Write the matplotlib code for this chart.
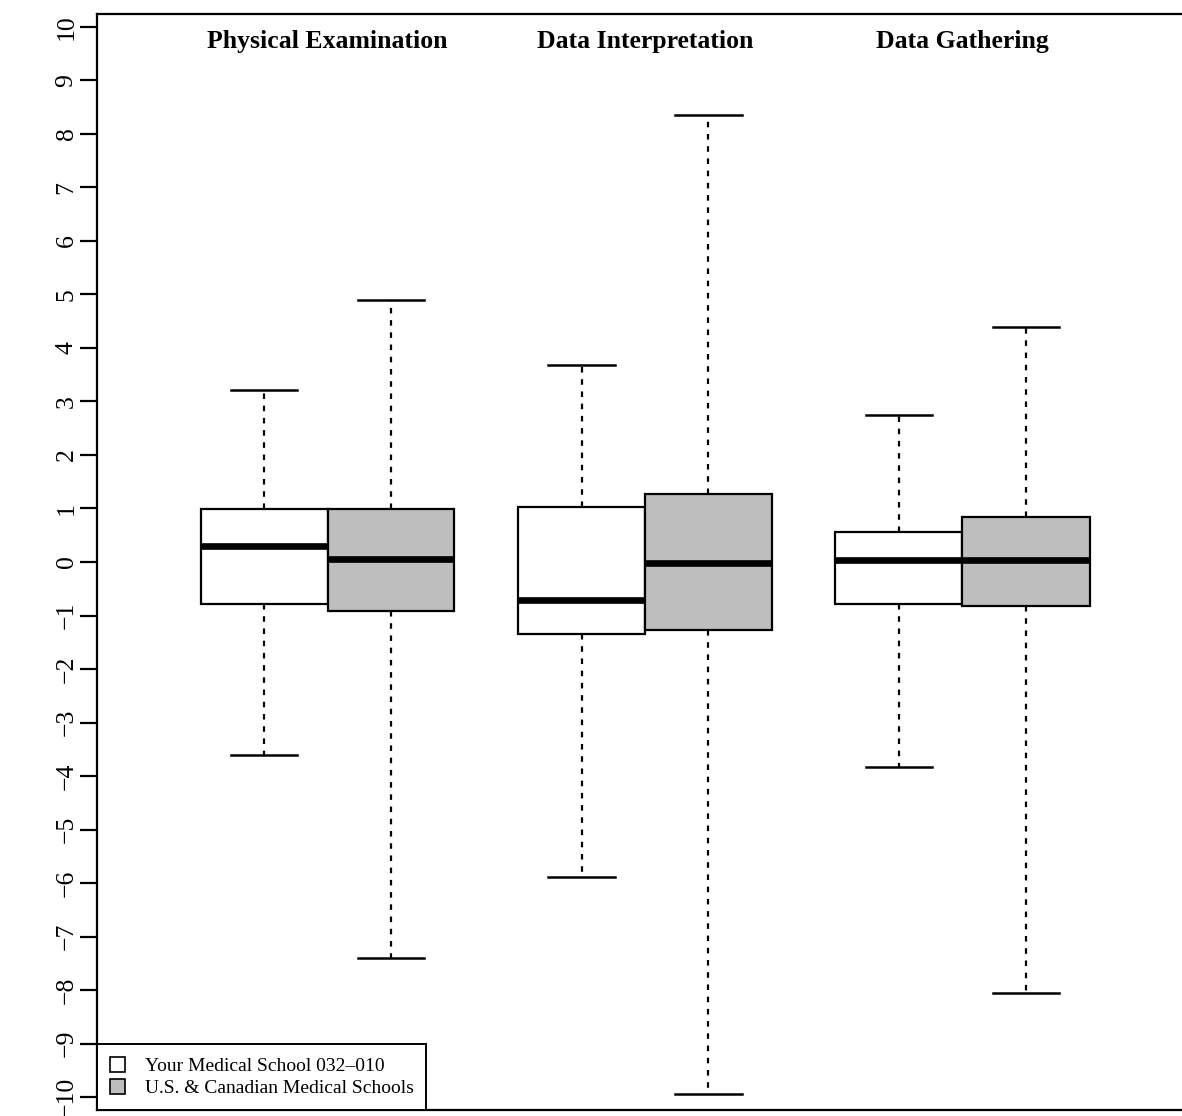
import matplotlib
matplotlib.use("Agg")
import matplotlib.pyplot as plt
from matplotlib.patches import Patch

plt.rcParams['font.family'] = ['Liberation Serif', 'DejaVu Serif']

# categories and groups
categories = ["Physical Examination", "Data Interpretation", "Data Gathering"]
groups = ["Your Medical School 032\u2013010", "U.S. & Canadian Medical Schools"]

# five-number summaries (per category: [your school, US/Canada])
whisk_lo = [[-3.6, -7.4], [-5.89, -9.94], [-3.83, -8.06]]
q1 = [[-0.79, -0.92], [-1.35, -1.27], [-0.79, -0.82]]
med = [[0.30, 0.06], [-0.71, -0.02], [0.04, 0.04]]
q3 = [[0.99, 0.99], [1.03, 1.27], [0.56, 0.84]]
whisk_hi = [[3.22, 4.9], [3.68, 8.36], [2.75, 4.39]]

fills = ["white", "#bebebe"]
yticks = list(range(-10, 11))

fig = plt.figure(figsize=(11.82, 11.16), dpi=100)
ax = fig.add_axes([97 / 1182, 6 / 1116, 1095 / 1182, 1096 / 1116])

pos = []
stats = []
colors = []
for i in range(len(categories)):
    for j in range(len(groups)):
        pos.append(1 + i * 2.5 + j)
        stats.append(dict(whislo=whisk_lo[i][j], q1=q1[i][j], med=med[i][j],
                          q3=q3[i][j], whishi=whisk_hi[i][j], fliers=[]))
        colors.append(fills[j])

bp = ax.bxp(stats, positions=pos, widths=1.0, capwidths=0.52, patch_artist=True,
            showfliers=False,
            boxprops=dict(edgecolor="black", linewidth=1.6),
            medianprops=dict(color="black", linewidth=4.8, solid_capstyle="butt"),
            whiskerprops=dict(color="black", linewidth=1.6, linestyle=(0, (2.5, 3))),
            capprops=dict(color="black", linewidth=1.8))
for patch, c in zip(bp["boxes"], colors):
    patch.set_facecolor(c)

for i, name in enumerate(categories):
    ax.text(1.5 + i * 2.5, 9.72, name, ha="center", va="center",
            fontsize=18.5, fontweight="bold")

ax.set_xlim(1 - 167 / 127, 1 + (1192 - 264) / 127)
ax.set_ylim(-10.24, 10.24)
ax.set_xticks([])
ax.set_yticks(yticks)
ax.set_yticklabels([str(t).replace("-", "\u2212") for t in yticks],
                   rotation=90, va="center", fontsize=18.5)
ax.tick_params(axis="y", length=12, width=1.6, pad=2)
for s in ax.spines.values():
    s.set_linewidth(1.6)

handles = [Patch(facecolor=c, edgecolor="black", linewidth=1.2) for c in fills]
leg = ax.legend(handles, groups, loc="lower left", bbox_to_anchor=(0, 0),
                borderaxespad=0, fancybox=False, edgecolor="black", fontsize=14,
                handlelength=0.8, handleheight=0.8, handletextpad=1.0,
                labelspacing=0.2, borderpad=0.65, framealpha=1)
leg.get_frame().set_linewidth(1.4)

fig.savefig("out.png", dpi=100)
